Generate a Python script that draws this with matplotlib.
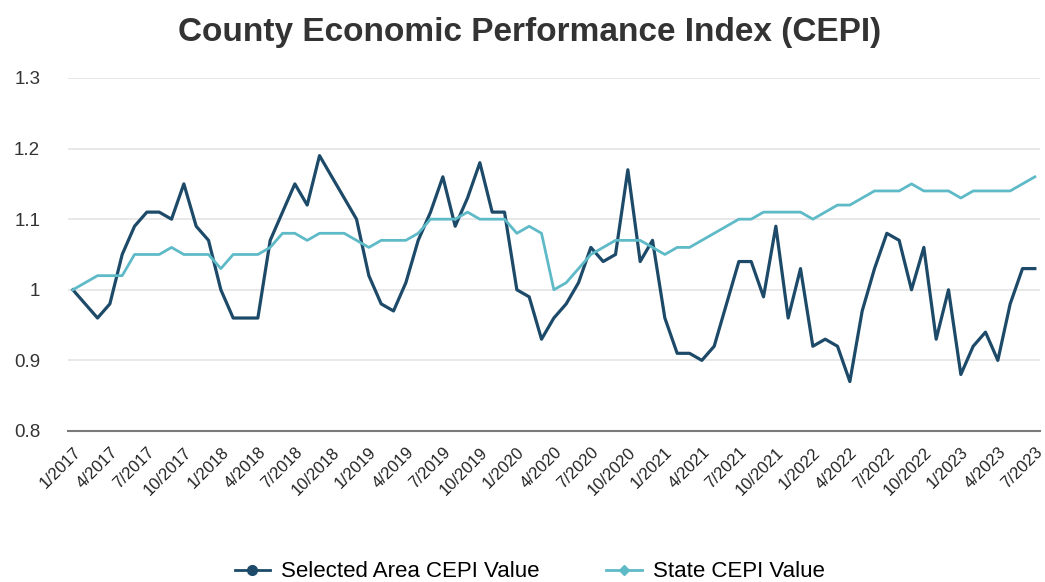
import matplotlib.pyplot as plt
from matplotlib.lines import Line2D

plt.rcParams['font.family'] = ['Liberation Sans', 'DejaVu Sans']

# monthly values, 1/2017 .. 7/2023
selected = [1.00, 0.98, 0.96, 0.98, 1.05, 1.09, 1.11, 1.11, 1.10, 1.15,
            1.09, 1.07, 1.00, 0.96, 0.96, 0.96, 1.07, 1.11, 1.15, 1.12,
            1.19, 1.16, 1.13, 1.10, 1.02, 0.98, 0.97, 1.01, 1.07, 1.11,
            1.16, 1.09, 1.13, 1.18, 1.11, 1.11, 1.00, 0.99, 0.93, 0.96,
            0.98, 1.01, 1.06, 1.04, 1.05, 1.17, 1.04, 1.07, 0.96, 0.91,
            0.91, 0.90, 0.92, 0.98, 1.04, 1.04, 0.99, 1.09, 0.96, 1.03,
            0.92, 0.93, 0.92, 0.87, 0.97, 1.03, 1.08, 1.07, 1.00, 1.06,
            0.93, 1.00, 0.88, 0.92, 0.94, 0.90, 0.98, 1.03, 1.03]
state = [1.00, 1.01, 1.02, 1.02, 1.02, 1.05, 1.05, 1.05, 1.06, 1.05,
         1.05, 1.05, 1.03, 1.05, 1.05, 1.05, 1.06, 1.08, 1.08, 1.07,
         1.08, 1.08, 1.08, 1.07, 1.06, 1.07, 1.07, 1.07, 1.08, 1.10,
         1.10, 1.10, 1.11, 1.10, 1.10, 1.10, 1.08, 1.09, 1.08, 1.00,
         1.01, 1.03, 1.05, 1.06, 1.07, 1.07, 1.07, 1.06, 1.05, 1.06,
         1.06, 1.07, 1.08, 1.09, 1.10, 1.10, 1.11, 1.11, 1.11, 1.11,
         1.10, 1.11, 1.12, 1.12, 1.13, 1.14, 1.14, 1.14, 1.15, 1.14,
         1.14, 1.14, 1.13, 1.14, 1.14, 1.14, 1.14, 1.15, 1.16]
months = [f"{m}/{y}" for y in range(2017, 2024) for m in range(1, 13)][:len(selected)]

dark = '#1c4a68'
light = '#5fbac8'

fig = plt.figure(figsize=(10.45, 5.82), dpi=100)
ax = fig.add_axes([0.065, 0.2595, 0.93, 0.6065])

x = list(range(len(selected)))
ax.plot(x, selected, color=dark, linewidth=2.3)
ax.plot(x, state, color=light, linewidth=2.0)

ax.set_ylim(0.8, 1.3)
ax.set_yticks([0.8, 0.9, 1.0, 1.1, 1.2, 1.3])
ax.set_yticklabels(['0.8', '0.9', '1', '1.1', '1.2', '1.3'], fontsize=13.5, color='#333333')
ax.set_xlim(-0.4, len(x) - 0.6)
ax.set_xticks(x[::3])
ax.set_xticklabels(months[::3], rotation=45, ha='right', rotation_mode='anchor',
                   fontsize=12, color='#222222')
ax.tick_params(axis='y', length=0, pad=20)
ax.tick_params(axis='x', length=0, pad=10)

ax.grid(axis='y', color='#e4e4e4', linewidth=1.2)
ax.set_axisbelow(True)
for s in ['top', 'right', 'left']:
    ax.spines[s].set_visible(False)
ax.spines['bottom'].set_color('#7a7a7a')
ax.spines['bottom'].set_linewidth(1.5)

fig.suptitle('County Economic Performance Index (CEPI)', x=0.507, y=0.97,
             fontsize=24, fontweight='bold', color='#333333')

handles = [Line2D([], [], color=dark, marker='o', markersize=7, linewidth=2),
           Line2D([], [], color=light, marker='D', markersize=5.5, linewidth=2)]
fig.legend(handles, ['Selected Area CEPI Value', 'State CEPI Value'],
           loc='lower center', bbox_to_anchor=(0.507, -0.035), ncol=2, frameon=False,
           fontsize=16, handlelength=1.6, handletextpad=0.5, columnspacing=3)

fig.savefig('out.png', dpi=100, facecolor='white')
